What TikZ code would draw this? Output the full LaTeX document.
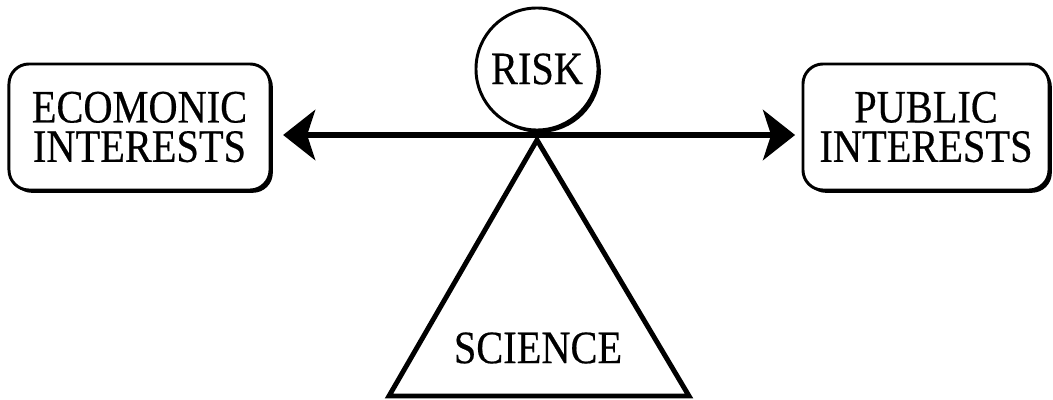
\documentclass[tikz,border=0pt]{standalone}
\usepackage{fontspec}
\newfontfamily\figfont{Liberation Serif}[FakeStretch=0.87,FakeBold=0.4]
\usetikzlibrary{arrows.meta,shadows}
\begin{document}
\begin{tikzpicture}[x=0.025cm,y=-0.025cm,
  font=\figfont\fontsize{33}{28}\selectfont,
  blackshadow/.style={drop shadow={shadow xshift=0.07cm,shadow yshift=-0.07cm,fill=black,opacity=1}},
  intbox/.style={draw,rectangle,rounded corners=0.5cm,fill=white,line width=2.1pt,align=center,inner sep=0pt,minimum height=3.15cm,blackshadow},
  risknode/.style={draw,circle,fill=white,line width=2.1pt,inner sep=0pt,minimum size=3.05cm,blackshadow},
  beam/.style={line width=4.3pt,{Stealth[length=0.8cm,width=1.25cm,inset=0.2cm]}-{Stealth[length=0.8cm,width=1.25cm,inset=0.2cm]}}]
\useasboundingbox (0,0) rectangle (1053,400);
\node[intbox,minimum width=6.525cm] (eco) at (139.5,127) {ECOMONIC\\INTERESTS};
\node[intbox,minimum width=6.15cm] (pub) at (926,127) {PUBLIC\\INTERESTS};
\coordinate (pivot) at (537,135);
\coordinate (apex) at (537,140);
\coordinate (baseL) at (389,396);
\coordinate (baseR) at (689,396);
\draw[line width=3.5pt,line join=miter] (apex) -- (baseR) -- (baseL) -- cycle;
\node (sci) at (538,348) {SCIENCE};
\node[risknode] (risk) at (537,69) {RISK};
\draw[beam,shorten <=0.29cm,shorten >=0.16cm] (eco.east |- pivot) -- (pub.west |- pivot);
\end{tikzpicture}
\end{document}
